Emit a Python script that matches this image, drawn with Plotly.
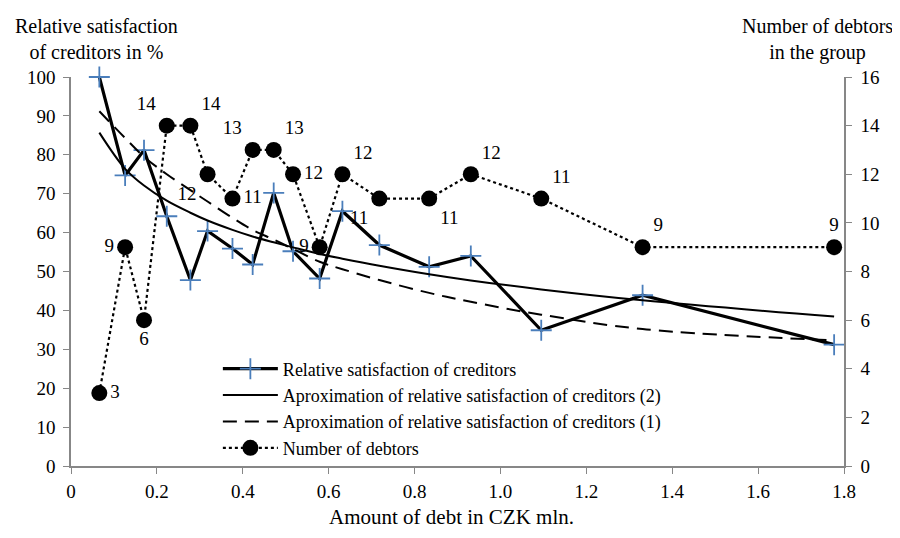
import plotly.graph_objects as go

# Amount of debt (CZK mln.) for each group
debt = [0.066, 0.126, 0.170, 0.223, 0.278, 0.318, 0.376, 0.423, 0.472,
        0.517, 0.579, 0.632, 0.718, 0.834, 0.931, 1.095, 1.331, 1.777]

# Relative satisfaction of creditors (%)
satisfaction = [100.0, 74.7, 81.2, 64.2, 47.8, 60.4, 55.9, 51.8, 70.2,
                55.2, 48.2, 65.5, 56.8, 51.2, 54.0, 34.9, 43.9, 31.2]

# Approximation (2) - solid curve
approx2 = [85.7, 76.4, 72.1, 68.2, 65.1, 63.1, 60.7, 59.0, 57.5,
           56.2, 54.5, 53.3, 51.5, 49.3, 47.7, 45.4, 42.6, 38.4]

# Approximation (1) - dashed curve
approx1 = [91.2, 84.3, 79.5, 75.0, 70.9, 68.0, 63.8, 60.7, 58.2,
           55.8, 52.5, 50.6, 47.8, 44.5, 42.2, 38.9, 35.2, 32.3]

# Number of debtors in the group
debtors = [3, 9, 6, 14, 14, 12, 11, 13, 13, 12, 9, 12, 11, 11, 12, 11, 9, 9]

label_pos = ["middle right", "middle left", "bottom center", "top left", "top right",
             "bottom left", "middle right", "top left", "top right", "middle right",
             "middle left", "top right", "bottom left", "bottom right", "top right",
             "top right", "top right", "top center"]

x_ticks = [0, 0.2, 0.4, 0.6, 0.8, 1.0, 1.2, 1.4, 1.6, 1.8]
x_ticktext = ["0", "0.2", "0.4", "0.6", "0.8", "1.0", "1.2", "1.4", "1.6", "1.8"]
y_ticks = [0, 10, 20, 30, 40, 50, 60, 70, 80, 90, 100]
y2_ticks = [0, 2, 4, 6, 8, 10, 12, 14, 16]

FONT = "Liberation Serif"
AXIS_COLOR = "#878787"

fig = go.Figure()

fig.add_trace(go.Scatter(
    x=debt, y=satisfaction, mode="lines+markers", cliponaxis=False,
    name="Relative satisfaction of creditors",
    line=dict(color="black", width=3.2),
    marker=dict(symbol="cross-thin", size=15, line=dict(color="#4a7ebb", width=1.8),
                color="#4a7ebb"),
))
fig.add_trace(go.Scatter(
    x=debt, y=approx2, mode="lines",
    name="Aproximation of relative satisfaction of creditors (2)",
    line=dict(color="black", width=2, shape="spline"),
))
fig.add_trace(go.Scatter(
    x=debt, y=approx1, mode="lines",
    name="Aproximation of relative satisfaction of creditors (1)",
    line=dict(color="black", width=2, dash="14px,8px", shape="spline"),
))
fig.add_trace(go.Scatter(
    x=debt, y=debtors, mode="lines+markers+text", yaxis="y2", cliponaxis=False,
    name="Number of debtors",
    text=[str(v) for v in debtors], textposition=label_pos,
    textfont=dict(family=FONT, size=19, color="black"),
    line=dict(color="black", width=2.2, dash="dot"),
    marker=dict(symbol="circle", size=16, color="black"),
))

fig.update_layout(
    width=892, height=530,
    margin=dict(l=63, r=56, t=69, b=72),
    paper_bgcolor="white", plot_bgcolor="white",
    font=dict(family=FONT, size=19, color="black"),
    showlegend=True,
    legend=dict(x=0.19, y=0.297, xanchor="left", yanchor="top",
                bgcolor="rgba(0,0,0,0)", font=dict(size=18, family=FONT),
                tracegroupgap=0, itemwidth=55),
    xaxis=dict(range=[0, 1.8], tickvals=x_ticks, ticktext=x_ticktext,
               showline=True, linecolor=AXIS_COLOR, linewidth=1.6,
               ticks="outside", ticklen=6, tickcolor=AXIS_COLOR, tickwidth=1.2,
               showgrid=False, zeroline=False, ticklabelstandoff=1),
    yaxis=dict(range=[0, 100], tickvals=y_ticks,
               showline=True, linecolor=AXIS_COLOR, linewidth=1.6,
               ticks="outside", ticklen=6, tickcolor=AXIS_COLOR, tickwidth=1.2,
               showgrid=False, zeroline=False, ticklabelstandoff=4),
    yaxis2=dict(range=[0, 16], tickvals=y2_ticks, overlaying="y", side="right",
                showline=True, linecolor=AXIS_COLOR, linewidth=1.6,
                ticks="outside", ticklen=6, tickcolor=AXIS_COLOR, tickwidth=1.2,
                showgrid=False, zeroline=False, ticklabelstandoff=5),
    annotations=[
        dict(text="Relative satisfaction<br>of creditors in %", xref="paper", yref="paper",
             x=0.033, y=1.165, xanchor="center", yanchor="top", showarrow=False,
             align="center", font=dict(size=20, family=FONT)),
        dict(text="Number of debtors<br>in the group", xref="paper", yref="paper",
             x=0.966, y=1.165, xanchor="center", yanchor="top", showarrow=False,
             align="center", font=dict(size=20, family=FONT)),
        dict(text="Amount of debt in CZK mln.", xref="paper", yref="paper",
             x=0.492, y=-0.131, xanchor="center", yanchor="middle", showarrow=False,
             font=dict(size=21, family=FONT)),
    ],
)

fig.write_html("out.html")
